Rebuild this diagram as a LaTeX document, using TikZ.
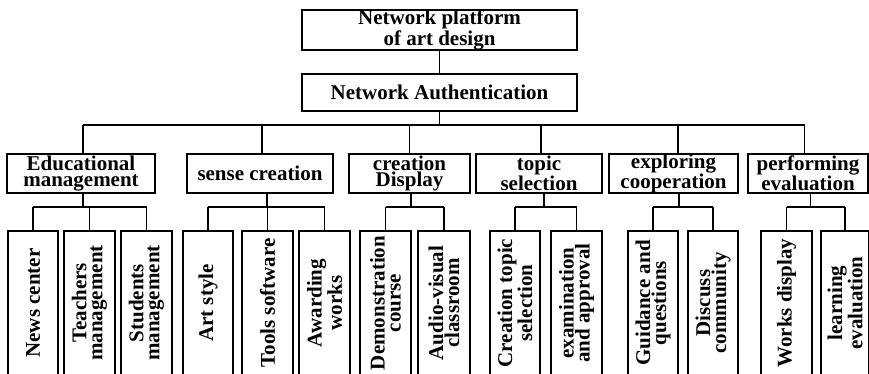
\documentclass[tikz,border=0pt]{standalone}
\usepackage{fontspec}
\setmainfont{Liberation Serif}
\begin{document}
\begin{tikzpicture}[x=1pt,y=-1pt,
  every node/.style={font=\fontsize{21}{16}\selectfont\bfseries, inner sep=0pt, align=center},
  box/.style={draw, line width=1.4pt, minimum height=39pt},
  leaf/.style={draw, line width=1.4pt, rotate=90, minimum width=144pt, minimum height=51pt},
  conn/.style={line width=1.4pt}]
\useasboundingbox (0,0) rectangle (869,373);
\clip (0,0) rectangle (869,373);
% top
\node[box, minimum width=275pt, minimum height=38pt] (top) at (439.5,30) {Network platform\\of art design};
\node[box, minimum width=275pt, minimum height=37pt] (auth) at (439.5,92.5) {Network Authentication};
% level 2
\node[box, minimum width=148pt] (edu) at (81,173.5) {Educational\\management};
\node[box, minimum width=146pt] (sense) at (260,173.5) {sense creation};
\node[box, minimum width=121pt] (disp) at (409.5,173.5) {creation\\Display};
\node[box, minimum width=126pt] (topic) at (539,173.5) {topic\\selection};
\node[box, minimum width=129pt] (expl) at (673.5,173.5) {exploring\\cooperation};
\node[box, minimum width=120pt] (perf) at (808,173.5) {performing\\evaluation};
% leaves
\node[leaf, minimum height=50pt] (l1) at (33,303) {News center};
\node[leaf] (l2) at (89.5,303) {Teachers\\management};
\node[leaf] (l3) at (146.5,303) {Students\\management};
\node[leaf, minimum height=50pt] (l4) at (208,303) {Art style};
\node[leaf] (l5) at (267.5,303) {Tools software};
\node[leaf] (l6) at (324.5,303) {Awarding\\works};
\node[leaf] (l7) at (385.5,303) {Demonstration\\course};
\node[leaf, minimum height=52pt] (l8) at (444,303) {Audio-visual\\classroom};
\node[leaf, minimum height=50pt] (l9) at (515,303) {Creation topic\\selection};
\node[leaf] (l10) at (576.5,303) {examination\\and approval};
\node[leaf, minimum height=50pt] (l11) at (653,303) {Guidance and\\questions};
\node[leaf, minimum height=50pt] (l12) at (713,303) {Discuss\\community};
\node[leaf] (l13) at (786.5,303) {Works display};
\node[leaf, minimum height=48pt] (l14) at (845,303) {learning\\evaluation};
% connectors
\coordinate (bus) at (0,125);
\coordinate (sb) at (0,207);
\draw[conn] (top) -- (auth);
\draw[conn] (auth.south) -- (auth.south |- bus);
\coordinate (t1) at ([xshift=2pt]edu.north);
\coordinate (t2) at ([xshift=2pt]sense.north);
\coordinate (t3) at ([xshift=0pt]disp.north);
\coordinate (t4) at ([xshift=2pt]topic.north);
\coordinate (t5) at ([xshift=4.5pt]expl.north);
\coordinate (t6) at ([xshift=-3.5pt]perf.north);
\draw[conn] (t1 |- bus) -- (t6 |- bus);
\foreach \t in {t1,t2,t3,t4,t5,t6} \draw[conn] (\t |- bus) -- (\t);
\coordinate (b1) at ([xshift=2pt]edu.south);
\coordinate (b2) at ([xshift=7pt]sense.south);
\coordinate (b3) at ([xshift=1.5pt]disp.south);
\coordinate (b4) at ([xshift=5pt]topic.south);
\coordinate (b5) at ([xshift=5.5pt]expl.south);
\coordinate (b6) at ([xshift=2.5pt]perf.south);
\foreach \b in {b1,b2,b3,b4,b5,b6} \draw[conn] (\b) -- (\b |- sb);
\draw[conn] (l1.east |- sb) -- (l3.east |- sb);
\draw[conn] (l4.east |- sb) -- (l6.east |- sb);
\draw[conn] (l7.east |- sb) -- (l8.east |- sb);
\draw[conn] (l9.east |- sb) -- (l10.east |- sb);
\draw[conn] (l11.east |- sb) -- (l12.east |- sb);
\draw[conn] (l13.east |- sb) -- (l14.east |- sb);
\foreach \l in {l1,l2,l3,l4,l5,l6,l7,l8,l9,l10,l11,l12,l13,l14} \draw[conn] (\l.east |- sb) -- (\l.east);
\end{tikzpicture}
\end{document}
